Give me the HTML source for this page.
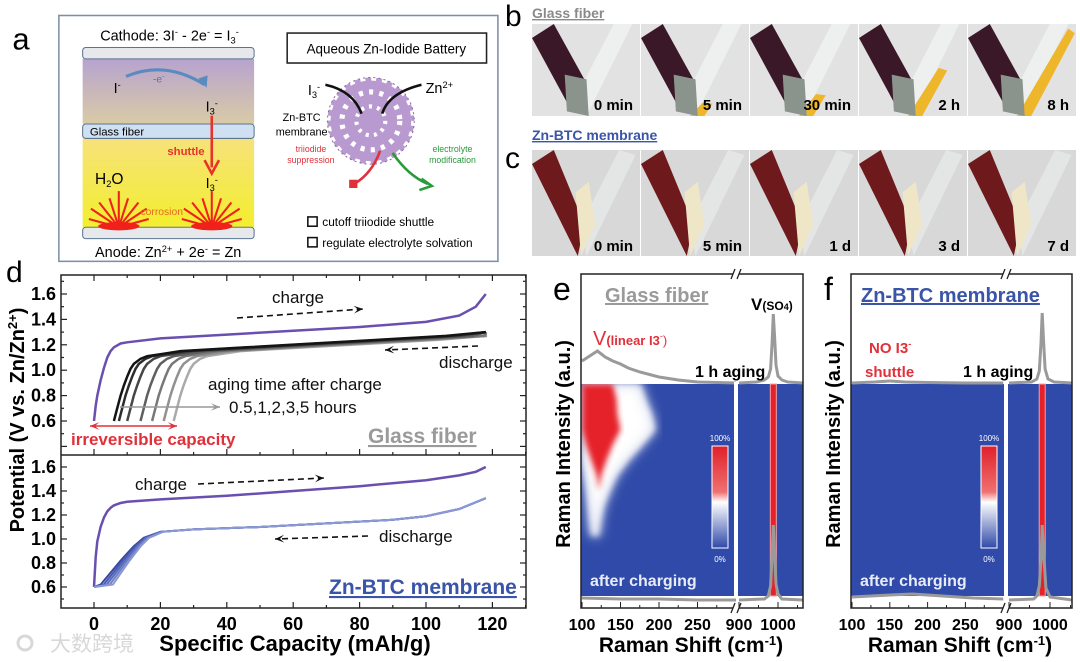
<!DOCTYPE html>
<html><head><meta charset="utf-8"><style>
body{margin:0;background:#fff;width:1080px;height:662px;overflow:hidden}
svg{display:block;font-family:"Liberation Sans","Noto Sans CJK SC",sans-serif}
</style></head><body>
<svg id="fig" width="1080" height="662" viewBox="0 0 1080 662" xmlns="http://www.w3.org/2000/svg">
<defs>
<linearGradient id="gPurp" x1="0" y1="0" x2="0" y2="1"><stop offset="0" stop-color="#b7a3cf"/><stop offset="1" stop-color="#d9cba6"/></linearGradient>
<linearGradient id="gYel" x1="0" y1="0" x2="0" y2="1"><stop offset="0" stop-color="#f6e27a"/><stop offset="1" stop-color="#f3ee2e"/></linearGradient>
<linearGradient id="gCbar" x1="0" y1="0" x2="0" y2="1"><stop offset="0" stop-color="#e0202a"/><stop offset="0.45" stop-color="#f07070"/><stop offset="0.55" stop-color="#ffffff"/><stop offset="1" stop-color="#2f49a8"/></linearGradient>
<filter id="blur3"><feGaussianBlur stdDeviation="3"/></filter>
<filter id="blur6"><feGaussianBlur stdDeviation="6"/></filter>
<clipPath id="clipE"><rect x="581" y="384" width="154" height="212"/></clipPath>
</defs>

<!-- panel a -->
<g transform="scale(1.033)">
<text x="12" y="48" font-size="30">a</text>
<rect x="57" y="15" width="425" height="238" fill="#fff" stroke="#7d8fa6" stroke-width="1.5"/>
<text x="97" y="39" font-size="14">Cathode: 3I<tspan font-size="9" dy="-5">-</tspan><tspan dy="5"> - 2e</tspan><tspan font-size="9" dy="-5">-</tspan><tspan dy="5"> = I</tspan><tspan font-size="9" dy="3">3</tspan><tspan font-size="9" dy="-8">-</tspan></text>
<rect x="80" y="57" width="166" height="63" fill="url(#gPurp)"/>
<rect x="80" y="134" width="166" height="86" fill="url(#gYel)"/>
<rect x="80" y="46" width="166" height="11" rx="3" fill="#e6e8ec" stroke="#5b7590"/>
<rect x="80" y="120" width="166" height="14" rx="3" fill="#cfe0f2" stroke="#5b7590"/>
<text x="87" y="131" font-size="11">Glass fiber</text>
<rect x="80" y="220" width="166" height="11" rx="3" fill="#e6e8ec" stroke="#5b7590"/>
<text x="92" y="249" font-size="14">Anode: Zn<tspan font-size="9" dy="-5">2+</tspan><tspan dy="5"> + 2e</tspan><tspan font-size="9" dy="-5">-</tspan><tspan dy="5"> = Zn</tspan></text>
<text x="110" y="90" font-size="14">I<tspan font-size="9" dy="-5">-</tspan></text>
<path d="M122 74 Q160 58 198 82" fill="none" stroke="#5b8ac0" stroke-width="3"/>
<path d="M192 76 L200 85 L201 73 Z" fill="#5b8ac0"/>
<text x="148" y="80" font-size="10" fill="#4a78b8">-e<tspan font-size="7" dy="-4">-</tspan></text>
<text x="199" y="108" font-size="14">I<tspan font-size="9" dy="3">3</tspan><tspan font-size="9" dy="-8">-</tspan></text>
<line x1="205" y1="112" x2="205" y2="162" stroke="#e8332a" stroke-width="2.5"/>
<path d="M198 155 L205 168 L212 155" fill="none" stroke="#e8332a" stroke-width="2.5"/>
<text x="162" y="150" font-size="11" fill="#e8332a" font-weight="bold">shuttle</text>
<text x="92" y="178" font-size="15">H<tspan font-size="9" dy="3">2</tspan><tspan dy="-3">O</tspan></text>
<text x="199" y="182" font-size="14">I<tspan font-size="9" dy="3">3</tspan><tspan font-size="9" dy="-8">-</tspan></text>
<g stroke="#f0201a" stroke-width="2">
<path d="M115 185 V220 M115 220 L88 202 M115 220 L96 196 M115 220 L106 192 M115 220 L124 192 M115 220 L134 196 M115 220 L142 202 M115 220 L86 212 M115 220 L144 212"/>
<path d="M205 185 V220 M205 220 L178 202 M205 220 L186 196 M205 220 L196 192 M205 220 L214 192 M205 220 L224 196 M205 220 L232 202 M205 220 L176 212 M205 220 L234 212"/>
</g>
<ellipse cx="115" cy="219" rx="20" ry="4" fill="#f0201a"/><ellipse cx="205" cy="219" rx="20" ry="4" fill="#f0201a"/>
<text x="136" y="208" font-size="10" fill="#e86a1a">corrosion</text>
<rect x="278" y="32" width="193" height="29" fill="#fff" stroke="#222" stroke-width="1.5"/>
<text x="374" y="52" font-size="13" text-anchor="middle">Aqueous Zn-Iodide Battery</text>
<circle cx="359" cy="117" r="42" fill="#b99ad0"/>
<circle cx="359" cy="117" r="42" fill="none" stroke="#fff" stroke-width="6" stroke-dasharray="5 6"/>
<circle cx="359" cy="117" r="28" fill="none" stroke="#fff" stroke-width="5" stroke-dasharray="4 6"/>
<circle cx="359" cy="117" r="14" fill="none" stroke="#fff" stroke-width="4" stroke-dasharray="3 5"/>
<circle cx="359" cy="117" r="42" fill="none" stroke="#8c6aa8" stroke-width="1" stroke-dasharray="2 3"/>
<path d="M315 82 Q342 88 350 110" fill="none" stroke="#111" stroke-width="2.5"/>
<path d="M408 82 Q376 90 370 110" fill="none" stroke="#111" stroke-width="2.5"/>
<text x="298" y="92" font-size="14">I<tspan font-size="9" dy="3">3</tspan><tspan font-size="9" dy="-8">-</tspan></text>
<text x="412" y="90" font-size="14">Zn<tspan font-size="9" dy="-5">2+</tspan></text>
<text x="292" y="117" font-size="10.5" text-anchor="middle">Zn-BTC</text>
<text x="292" y="131" font-size="10.5" text-anchor="middle">membrane</text>
<text x="301" y="147" font-size="8.5" fill="#e0303a" text-anchor="middle">triiodide</text>
<text x="301" y="158" font-size="8.5" fill="#e0303a" text-anchor="middle">suppression</text>
<text x="438" y="147" font-size="8.5" fill="#2a9a3a" text-anchor="middle">electrolyte</text>
<text x="438" y="158" font-size="8.5" fill="#2a9a3a" text-anchor="middle">modification</text>
<path d="M368 146 Q360 168 343 178" fill="none" stroke="#e0303a" stroke-width="2.5"/><rect x="338" y="174" width="8" height="8" fill="#e0303a"/>
<path d="M380 148 Q395 170 414 178" fill="none" stroke="#2a9a3a" stroke-width="2.5"/><path d="M408 173 L418 180 L406 184" fill="none" stroke="#2a9a3a" stroke-width="2.5"/>
<rect x="298" y="210" width="9" height="9" fill="none" stroke="#111" stroke-width="1.5"/>
<text x="312" y="219" font-size="11.5">cutoff triiodide shuttle</text>
<rect x="298" y="230" width="9" height="9" fill="none" stroke="#111" stroke-width="1.5"/>
<text x="312" y="239" font-size="11.5">regulate electrolyte solvation</text>
</g>

<!-- panels b,c photos -->
<g id="photos">
<text x="505" y="26" font-size="30">b</text>
<text x="532" y="18" font-size="14" font-weight="bold" fill="#8a8a8a" text-decoration="underline">Glass fiber</text>
<text x="505" y="168" font-size="30">c</text>
<text x="532" y="140" font-size="14" font-weight="bold" fill="#3a54a8" text-decoration="underline">Zn-BTC membrane</text>
</g>

<g id="panelD">
<text x="6" y="282" font-size="30">d</text>
</g>
<g id="panelE"></g>
<g id="panelF"></g>
<text x="50" y="651" font-size="21" fill="#d8d8d8">大数跨境</text>
<circle cx="25" cy="643" r="7" fill="none" stroke="#d8d8d8" stroke-width="3"/>
</svg>
<script>
// ---------- data: panel d ----------
const xTicksD = [0,20,40,60,80,100,120];
const yTicksD = [0.6,0.8,1.0,1.2,1.4,1.6];
const gfChargeCap = [0,0.5,1,2,3,4,5,6,8,10,20,40,60,80,100,110,115,118];
const gfChargeV   = [0.6,0.72,0.8,0.92,1.02,1.1,1.15,1.18,1.21,1.22,1.25,1.28,1.31,1.34,1.38,1.43,1.5,1.6];
const gfDisRelCap = [0,1,2,3,4,5,6,8,10,15,20,40,60,80,100];
const gfDisV      = [0.6,0.7,0.8,0.88,0.95,1.01,1.05,1.09,1.11,1.13,1.15,1.18,1.21,1.24,1.27];
const agingOffsets = [6,7.5,10,14,17.5,21,24];
const gfDisEndV = 1.3;
const znChargeCap = [0,0.5,1,2,3,4,5,6,8,10,20,40,60,80,100,110,115,118];
const znChargeV   = [0.6,0.85,0.98,1.1,1.18,1.23,1.26,1.28,1.3,1.31,1.33,1.36,1.4,1.44,1.49,1.53,1.56,1.6];
const znDisCap = [0,2,5,8,12,15,18,20,30,50,70,90,100,110,118];
const znDisV   = [0.6,0.62,0.72,0.82,0.94,1.01,1.04,1.06,1.08,1.1,1.13,1.16,1.19,1.25,1.34];
const znDisShift = [0,1,2,3,4];
// ---------- data: panel e/f ----------
const ramanTicksL = [100,150,200,250];
const ramanTicksR = [900,1000];
const eTopShiftL = [100,110,120,125,130,140,150,160,175,200,225,250,275,300];
const eTopIL     = [22,27,32,29,26,22,19,15,11,6,3,1,0.5,0];
const eTopShiftR = [900,945,965,975,981,985,988,991,995,1000,1010,1025,1064];
const eTopIR     = [0,1,3,6,14,40,69,48,18,7,3,1,0];
const eBotShiftL = [100,150,200,250,300];
const eBotIL     = [2,1,1,0,0];
const eBotShiftR = [900,965,975,981,985,988,991,995,1000,1010,1064];
const eBotIR     = [0,1,4,14,45,75,48,16,6,1,0];
const fTopShiftL = [100,130,150,170,200,250,300];
const fTopIL     = [0,1,2,1,0.5,0,0];
const fTopShiftR = [900,955,968,974,978,981,984,988,995,1010,1054];
const fTopIR     = [0,1,4,12,40,70,45,14,4,1,0];
const fBotShiftL = [100,150,180,220,260,300];
const fBotIL     = [3,5,6,4,2,1];
const fBotShiftR = [900,960,968,974,978,981,985,990,1000,1054];
const fBotIR     = [0,1,4,14,40,75,45,12,3,0];
const hmRows  = [0,1,2,3,4,5,6,7,8,9,10];
const redL    = [100,100,100,100,105,112,119,122,122,122,122];
const redR    = [140,145,146,150,140,132,125,122,122,122,122];
const whtL    = [100,100,100,100,100,100,103,106,108,110,112];
const whtR    = [176,182,190,195,178,160,145,136,128,124,122];
const eSo4Peak = 988;
const fSo4Peak = 981;
const photoBLabels = ["0 min","5 min","30 min","2 h","8 h"];
const photoBYellow = [0,0.15,0.25,0.55,1];
const photoCLabels = ["0 min","5 min","1 d","3 d","7 d"];

const NS="http://www.w3.org/2000/svg";
function mk(tag,attrs,parent,text){const e=document.createElementNS(NS,tag);for(const k in attrs)e.setAttribute(k,attrs[k]);if(text!==undefined)e.textContent=text;parent.appendChild(e);return e;}
function pathOf(xs,ys,fx,fy){return xs.map((x,i)=>(i?'L':'M')+fx(x).toFixed(1)+' '+fy(ys[i]).toFixed(1)).join(' ');}

// ---------- photos ----------
(function(){
  const g=document.getElementById('photos');
  const x0=532, W=545, w=W/5;
  photoBLabels.forEach((lab,i)=>{
    const x=x0+i*w, y=24, h=92;
    const bg=mk('rect',{x:x,y:y,width:w-1,height:h,fill:'#e2e2e2'},g);
    
    
    mk('polygon',{points:`${x+w*0.5},${y+h} ${x+w*0.92},${y} ${x+w*0.75},${y} ${x+w*0.4},${y+h*0.8}`,fill:'#eef0f0'},g);
    const yel=photoBYellow[i];
    if(yel>0) mk('polygon',{points:`${x+w*0.45},${y+h} ${x+w*(0.5+0.42*yel)},${y+h*(1-0.95*yel)} ${x+w*(0.6+0.38*yel)},${y+h*(1-0.9*yel)} ${x+w*0.58},${y+h}`,fill:'#eeb62a'},g);
    mk('polygon',{points:`${x},${y+14} ${x+w*0.2},${y} ${x+w*0.48},${y+h*0.6} ${x+w*0.32},${y+h*0.85}`,fill:'#3a1828'},g);
    mk('polygon',{points:`${x+w*0.3},${y+h*0.55} ${x+w*0.5},${y+h*0.6} ${x+w*0.52},${y+h} ${x+w*0.32},${y+h*0.95}`,fill:'#8a948c'},g);
    const t=mk('text',{x:x+w-8,y:y+h-6,'font-size':15,'font-weight':'bold','text-anchor':'end'},g,lab);
    
    
  });
  photoCLabels.forEach((lab,i)=>{
    const x=x0+i*w, y=150, h=106;
    const bg=mk('rect',{x:x,y:y,width:w-1,height:h,fill:'#d8d8d8'},g);
    
    
    mk('polygon',{points:`${x+w*0.5},${y+h} ${x+w*0.95},${y+5} ${x+w*0.8},${y} ${x+w*0.45},${y+h*0.7}`,fill:'#e4e6e6'},g);
    mk('polygon',{points:`${x},${y+14} ${x+w*0.2},${y} ${x+w*0.48},${y+h*0.7} ${x+w*0.42},${y+h}`,fill:'#6e1a1c'},g);
    mk('polygon',{points:`${x+w*0.4},${y+h*0.4} ${x+w*0.52},${y+h*0.3} ${x+w*0.58},${y+h*0.7} ${x+w*0.45},${y+h}`,fill:'#efe6c8'},g);
    const t=mk('text',{x:x+w-8,y:y+h-5,'font-size':15,'font-weight':'bold','text-anchor':'end'},g,lab);
    
    
  });
})();

// ---------- panel d ----------
(function(){
  const g=document.getElementById('panelD');
  const L=61,R=526,T=275,M=455,B=608;
  const xD=c=>94+c*3.32;
  const yT=v=>421-(v-0.6)*127;
  const yB=v=>587-(v-0.6)*120;
  const gc=mk('path',{d:pathOf(gfChargeCap,gfChargeV,xD,yT),fill:'none',stroke:'#6a4fb0','stroke-width':2.5},g);
  
  
  const nA=agingOffsets.length;
  agingOffsets.slice().reverse().forEach((off,j)=>{
    const i=nA-1-j;
    const cap=gfDisRelCap.map(c=>Math.min(off+c,118));
    const vv=gfDisV.slice();
    cap.push(118); vv.push(gfDisEndV);
    const shade=Math.round(20+i*(150/(nA-1)));
    const p=mk('path',{d:pathOf(cap,vv,xD,yT),fill:'none',stroke:`rgb(${shade},${shade},${shade})`,'stroke-width':2.5},g);
    
    
  });
  const zc=mk('path',{d:pathOf(znChargeCap,znChargeV,xD,yB),fill:'none',stroke:'#6a4fb0','stroke-width':2.5},g);
  
  
  znDisShift.forEach((s,i)=>{
    const cap=znDisCap.map((c,k)=>k===0?c:(c<25?c+s*(1-c/25):c));
    const p=mk('path',{d:pathOf(cap,znDisV,xD,yB),fill:'none',stroke:['#3848a0','#4a5ab0','#5b6bbc','#7080c8','#8a98d4'][i],'stroke-width':2},g);
    
    
  });
  const f=mk('rect',{x:L,y:T,width:R-L,height:B-T,fill:'none',stroke:'#222','stroke-width':1.5},g);
  
  
  mk('line',{x1:L,y1:M,x2:R,y2:M,stroke:'#222','stroke-width':1.5},g);
  for(let c=-10;c<=130;c+=10){
    const x=xD(c); if(x<L||x>R) continue;
    const len=(c%20===0)?6:3;
    mk('line',{x1:x,y1:B,x2:x,y2:B-len,stroke:'#222','stroke-width':1.2},g);
    mk('line',{x1:x,y1:M,x2:x,y2:M-len,stroke:'#222','stroke-width':1.2},g);
    mk('line',{x1:x,y1:T,x2:x,y2:T+len,stroke:'#222','stroke-width':1.2},g);
  }
  xTicksD.forEach(c=>{
    const t=mk('text',{x:xD(c),y:630,'font-size':18,'font-weight':'bold','text-anchor':'middle'},g,String(c));
    
    
  });
  for(let v=0.4;v<=1.75;v+=0.1){
    const vv=Math.round(v*10)/10, maj=Math.round(vv*10)%2===0;
    [[yT,T,M],[yB,M,B]].forEach(([fy,a,b])=>{const y=fy(vv); if(y<=a||y>=b) return;
      mk('line',{x1:L,y1:y,x2:L+(maj?6:3),y2:y,stroke:'#222','stroke-width':1.2},g);
      mk('line',{x1:R,y1:y,x2:R-(maj?6:3),y2:y,stroke:'#222','stroke-width':1.2},g);});
  }
  yTicksD.forEach(v=>{
    [yT,yB].forEach((fy,k)=>{
      const t=mk('text',{x:56,y:fy(v)+6,'font-size':18,'font-weight':'bold','text-anchor':'end'},g,v.toFixed(1));
      
      
    });
  });
  const yl=mk('text',{x:0,y:0,'font-size':20,'font-weight':'bold','text-anchor':'middle',transform:'translate(24,420) rotate(-90)'},g);
  yl.innerHTML='Potential (V vs. Zn/Zn<tspan font-size="13" dy="-7">2+</tspan><tspan dy="7">)</tspan>';
  
  
  const xl=mk('text',{x:295,y:651,'font-size':22,'font-weight':'bold','text-anchor':'middle'},g,'Specific Capacity (mAh/g)');
  
  
  const ann=[[272,303,'charge',17,'#111',''],[439,368,'discharge',17,'#111',''],[208,390,'aging time after charge',17,'#111',''],[229,413,'0.5,1,2,3,5 hours',17,'#111',''],[71,445,'irreversible capacity',17,'#e0303a','bold'],[135,490,'charge',17,'#111',''],[379,542,'discharge',17,'#111','']];
  ann.forEach(a=>{const t=mk('text',{x:a[0],y:a[1],'font-size':a[3],fill:a[4],'font-weight':a[5]||'normal'},g,a[2]);
    
    });
  const gf=mk('text',{x:368,y:443,'font-size':21,'font-weight':'bold',fill:'#9a9a9a','text-decoration':'underline'},g,'Glass fiber');
  
  
  const zb=mk('text',{x:329,y:594,'font-size':21,'font-weight':'bold',fill:'#3a54a8','text-decoration':'underline'},g,'Zn-BTC membrane');
  
  
  function arrow(x1,y1,x2,y2,col,dash){
    mk('line',{x1,y1,x2,y2,stroke:col,'stroke-width':1.6,'stroke-dasharray':dash||'none'},g);
    const a=Math.atan2(y2-y1,x2-x1),s=10;
    mk('polygon',{points:`${x2},${y2} ${x2-s*Math.cos(a-0.4)},${y2-s*Math.sin(a-0.4)} ${x2-s*0.5*Math.cos(a)},${y2-s*0.5*Math.sin(a)} ${x2-s*Math.cos(a+0.4)},${y2-s*Math.sin(a+0.4)}`,fill:col},g);
  }
  arrow(237,318,363,309,'#111','6 4');
  arrow(478,346,385,350,'#111','6 4');
  arrow(198,484,324,478,'#111','6 4');
  arrow(368,536,275,539,'#111','6 4');
  arrow(120,407,220,407,'#999');
  arrow(133,426,90,426,'#e0303a');arrow(133,426,177,426,'#e0303a');
})();

// ---------- panels e & f ----------
function raman(gid,cfg){
  const g=document.getElementById(gid);
  const {L,R,brk,x0,k1,x900,k2,top:T,bot:B,hmT,hmB,peak}=cfg;
  const fx=s=>s<=300?x0+(s-100)*k1:x900+(s-900)*k2;
  const yTop=I=>hmT-1-I, yBot=I=>hmB+4-I;
  const hm=mk('rect',{x:L,y:hmT,width:R-L,height:hmB-hmT,fill:'#2f4aa8'},g);
  
  
  if(cfg.heat){
    const hg=mk('g',{'clip-path':'url(#clipE)'},g);
    const rowY=r=>hmT+r*(hmB-hmT-60)/10;
    const poly=(lo,hi)=>hmRows.map(r=>fx(hi[r]).toFixed(1)+','+rowY(r).toFixed(1)).concat(hmRows.slice().reverse().map(r=>fx(lo[r]).toFixed(1)+','+rowY(r).toFixed(1)));
    const w=mk('polygon',{points:poly(whtL,whtR).join(' '),fill:'#ffffff',filter:'url(#blur6)'},hg);
    
    
    mk('polygon',{points:poly(whtL,whtR).join(' '),fill:'#ffffff',filter:'url(#blur3)',opacity:0.7},hg);
    const r=mk('polygon',{points:poly(redL,redR).join(' '),fill:'#e5222a',filter:'url(#blur3)'},hg);
    
    
  }
  const st=mk('rect',{x:fx(peak)-3,y:hmT,width:6,height:hmB-hmT,fill:'#e5222a',stroke:'#f6a0a0','stroke-width':1},g);
  
  
  [[cfg.tl,cfg.tli,yTop],[cfg.tr,cfg.tri,yTop],[cfg.bl,cfg.bli,yBot],[cfg.br,cfg.bri,yBot]].forEach((s,i)=>{
    const p=mk('path',{d:pathOf(s[0],s[1],fx,s[2]),fill:'none',stroke:'#9a9a9a','stroke-width':3},g);
    
    
  });
  mk('rect',{x:brk-2,y:hmT-2,width:4,height:hmB-hmT+4,fill:'#fff'},g);
  const f=mk('rect',{x:L,y:T,width:R-L,height:B-T,fill:'none',stroke:'#222','stroke-width':1.5},g);
  
  
  mk('rect',{x:brk-3,y:T-6,width:6,height:12,fill:'#fff'},g);mk('rect',{x:brk-3,y:B-6,width:6,height:12,fill:'#fff'},g);
  [T,B].forEach(y=>{mk('line',{x1:brk-5,y1:y+5,x2:brk-1,y2:y-5,stroke:'#222','stroke-width':1.3},g);mk('line',{x1:brk+1,y1:y+5,x2:brk+5,y2:y-5,stroke:'#222','stroke-width':1.3},g);});
  const cb=mk('rect',{x:cfg.cbx,y:446,width:16,height:102,fill:'url(#gCbar)',stroke:'#fff','stroke-width':1},g);
  
  
  mk('text',{x:cfg.cbx+8,y:441,'font-size':8,fill:'#fff','text-anchor':'middle'},g,'100%');
  mk('text',{x:cfg.cbx+8,y:562,'font-size':8,fill:'#fff','text-anchor':'middle'},g,'0%');
  for(let s=100;s<=300;s+=25){const x=fx(s);if(x>brk-3)continue;mk('line',{x1:x,y1:B,x2:x,y2:B-(s%50?3:6),stroke:'#222'},g);}
  for(let s=900;s<=1060;s+=50){const x=fx(s);if(x>R)continue;mk('line',{x1:x,y1:B,x2:x,y2:B-(s%100?3:6),stroke:'#222'},g);}
  ramanTicksL.concat(ramanTicksR).forEach(s=>{
    const t=mk('text',{x:fx(s),y:630,'font-size':16,'font-weight':'bold','text-anchor':'middle'},g,String(s));
    
    
  });
  const xl=mk('text',{x:cfg.tx,y:652,'font-size':21,'font-weight':'bold','text-anchor':'middle'},g);
  xl.innerHTML='Raman Shift (cm<tspan font-size="13" dy="-7">-1</tspan><tspan dy="7">)</tspan>';
  
  
  const yl=mk('text',{x:0,y:0,'font-size':20,'font-weight':'bold','text-anchor':'middle',transform:`translate(${L-11},444) rotate(-90)`},g,'Raman Intensity (a.u.)');
  
  
  const ac=mk('text',{x:L+9,y:586,'font-size':16,'font-weight':'bold',fill:'#e8ecf8'},g,'after charging');
  
  
  const ag=mk('text',{x:cfg.agx,y:377,'font-size':16,'font-weight':'bold'},g,'1 h aging');
  
  
  return g;
}
const gE=raman('panelE',{L:581,R:803,brk:736,x0:582,k1:0.77,x900:739,k2:0.39,top:274,bot:608,hmT:384,hmB:596,peak:eSo4Peak,heat:true,cbx:712,agx:695,tx:691,
  tl:eTopShiftL,tli:eTopIL,tr:eTopShiftR,tri:eTopIR,bl:eBotShiftL,bli:eBotIL,br:eBotShiftR,bri:eBotIR});
const gF=raman('panelF',{L:851,R:1072,brk:1006,x0:852,k1:0.756,x900:1009,k2:0.41,top:274,bot:608,hmT:384,hmB:596,peak:fSo4Peak,heat:false,cbx:981,agx:963,tx:960,
  tl:fTopShiftL,tli:fTopIL,tr:fTopShiftR,tri:fTopIR,bl:fBotShiftL,bli:fBotIL,br:fBotShiftR,bri:fBotIR});
(function(){
  let t=mk('text',{x:553,y:300,'font-size':32},gE,'e');
  
  t=mk('text',{x:605,y:302,'font-size':20,'font-weight':'bold',fill:'#9a9a9a','text-decoration':'underline'},gE,'Glass fiber');
  
  t=mk('text',{x:751,y:310,'font-size':17,'font-weight':'bold'},gE);t.innerHTML='V<tspan font-size="12">(SO</tspan><tspan font-size="9">4</tspan><tspan font-size="12">)</tspan>';
  
  t=mk('text',{x:593,y:345,'font-size':20,fill:'#e0303a'},gE);t.innerHTML='V<tspan font-size="13" font-weight="bold">(linear I3</tspan><tspan font-size="9" dy="-6">-</tspan><tspan font-size="13" dy="6">)</tspan>';
  
  t=mk('text',{x:824,y:300,'font-size':32},gF,'f');
  
  t=mk('text',{x:861,y:302,'font-size':20,'font-weight':'bold',fill:'#3a54a8','text-decoration':'underline'},gF,'Zn-BTC membrane');
  
  t=mk('text',{x:869,y:353,'font-size':15,'font-weight':'bold',fill:'#e0303a'},gF);t.innerHTML='NO I3<tspan font-size="9" dy="-6">-</tspan>';
  
  mk('text',{x:865,y:377,'font-size':15,'font-weight':'bold',fill:'#e0303a'},gF,'shuttle');
})();
</script>
</body></html>
